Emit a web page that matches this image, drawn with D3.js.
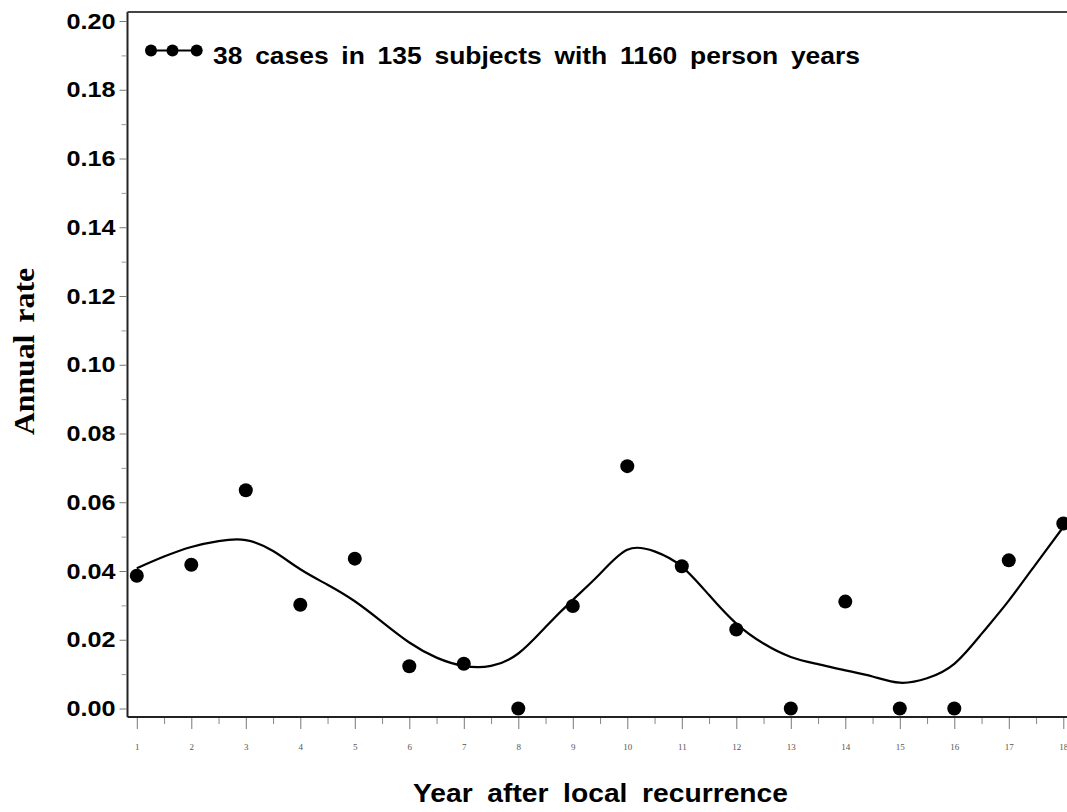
<!DOCTYPE html>
<html>
<head>
<meta charset="utf-8">
<script src="https://cdn.jsdelivr.net/npm/d3@7"></script>
<style>
  html, body { margin: 0; padding: 0; background: #fff; overflow: hidden; }
  svg { display: block; }
</style>
</head>
<body>
<svg id="chart" width="1067" height="812"></svg>
<script>
// Observed annual rates by year after local recurrence
const years = [1, 2, 3, 4, 5, 6, 7, 8, 9, 10, 11, 12, 13, 14, 15, 16, 17, 18];
const rates = [0.0386, 0.0418, 0.0635, 0.0302, 0.0436, 0.0123, 0.0130, 0.0000, 0.0298,
               0.0705, 0.0414, 0.0230, 0.0000, 0.0311, 0.0000, 0.0000, 0.0431, 0.0538];

// Smoothed trend (half-year steps)
const smoothYears = [1, 1.5, 2, 2.5, 3, 3.5, 4, 4.5, 5, 5.5, 6, 6.5, 7, 7.5, 8, 8.5, 9, 9.5,
                     10, 10.5, 11, 11.5, 12, 12.5, 13, 13.5, 14, 14.5, 15, 15.5, 16, 16.5, 17, 17.5, 18];
const smoothRates = [0.0408, 0.0442, 0.0470, 0.0487, 0.0490, 0.0458, 0.0405, 0.0360, 0.0312, 0.0252,
                     0.0192, 0.0148, 0.0124, 0.0124, 0.0160, 0.0237, 0.0316, 0.0392, 0.0462, 0.0457,
                     0.0413, 0.0330, 0.0247, 0.0189, 0.0150, 0.0129, 0.0111, 0.0093, 0.0075, 0.0088,
                     0.0130, 0.0217, 0.0314, 0.0421, 0.0528];

const yTicks = [0, 0.02, 0.04, 0.06, 0.08, 0.10, 0.12, 0.14, 0.16, 0.18, 0.20];
const yMinorTicks = [0.01, 0.03, 0.05, 0.07, 0.09, 0.11, 0.13, 0.15, 0.17, 0.19];
const xTicks = years;
const xMinorTicks = [1.5, 2.5, 3.5, 4.5, 5.5, 6.5, 7.5, 8.5, 9.5, 10.5, 11.5, 12.5, 13.5, 14.5, 15.5, 16.5, 17.5];

const legendLabel = "38 cases in 135 subjects with 1160 person years";
const xTitle = "Year after local recurrence";
const yTitle = "Annual rate";

const svg = d3.select("#chart");

const frame = { left: 127.5, top: 12, bottom: 717, right: 1078 };

const x = d3.scaleLinear().domain([1, 18]).range([136.8, 1063.3]);
const y = d3.scaleLinear().domain([0, 0.20]).range([708.5, 21]);

// Plot frame: left, top and bottom rules
const frameG = svg.append("g").attr("fill", "none").attr("stroke", "#222").attr("stroke-width", 2);
frameG.append("line").attr("x1", frame.left).attr("x2", frame.left).attr("y1", frame.top).attr("y2", frame.bottom);
frameG.append("line").attr("x1", frame.left).attr("x2", frame.right).attr("y1", frame.top).attr("y2", frame.top).attr("stroke", "#444");
frameG.append("line").attr("x1", frame.left).attr("x2", frame.right).attr("y1", frame.bottom).attr("y2", frame.bottom);

// Y axis
const yAxis = d3.axisLeft(y).tickValues(yTicks).tickSize(7).tickPadding(4).tickFormat(d3.format(".2f"));
const yg = svg.append("g").attr("transform", `translate(${frame.left - 1},0)`).call(yAxis);
yg.select(".domain").remove();
yg.selectAll(".tick line").attr("stroke", "#777").attr("stroke-width", 1);
yg.selectAll(".tick text")
  .attr("font-family", "'Liberation Sans', Arial, sans-serif")
  .attr("font-weight", "bold")
  .attr("font-size", 22.5)
  .attr("fill", "#000")
  .attr("textLength", 49)
  .attr("lengthAdjust", "spacingAndGlyphs");
const yMinor = d3.axisLeft(y).tickValues(yMinorTicks).tickSize(5).tickFormat("");
const ygm = svg.append("g").attr("transform", `translate(${frame.left - 1},0)`).call(yMinor);
ygm.select(".domain").remove();
ygm.selectAll(".tick line").attr("stroke", "#999").attr("stroke-width", 1);

// X axis
const xAxis = d3.axisBottom(x).tickValues(xTicks).tickSize(11).tickPadding(15).tickFormat(d3.format("d"));
const xg = svg.append("g").attr("transform", `translate(0,${frame.bottom + 1})`).call(xAxis);
xg.select(".domain").remove();
xg.selectAll(".tick line").attr("stroke", "#777").attr("stroke-width", 1);
xg.selectAll(".tick text")
  .attr("font-family", "'Liberation Serif', 'Times New Roman', serif")
  .attr("font-size", 9)
  .attr("fill", "#555");
const xMinor = d3.axisBottom(x).tickValues(xMinorTicks).tickSize(6).tickFormat("");
const xgm = svg.append("g").attr("transform", `translate(0,${frame.bottom + 1})`).call(xMinor);
xgm.select(".domain").remove();
xgm.selectAll(".tick line").attr("stroke", "#888").attr("stroke-width", 1);

// Smoothed trend line
const line = d3.line()
  .x((d, i) => x(smoothYears[i]))
  .y(d => y(d))
  .curve(d3.curveNatural);
svg.append("path")
  .datum(smoothRates)
  .attr("d", line)
  .attr("fill", "none")
  .attr("stroke", "#000")
  .attr("stroke-width", 2.2);

// Observed points
svg.append("g").selectAll("circle")
  .data(rates)
  .join("circle")
  .attr("cx", (d, i) => x(years[i]))
  .attr("cy", d => y(d))
  .attr("r", 7)
  .attr("fill", "#000");

// Legend
const lg = svg.append("g");
const legendY = 50.5;
const legendDots = [151, 172.5, 196.7];
lg.append("line")
  .attr("x1", legendDots[0]).attr("x2", legendDots[2])
  .attr("y1", legendY).attr("y2", legendY)
  .attr("stroke", "#000").attr("stroke-width", 2.2);
lg.selectAll("circle").data(legendDots).join("circle")
  .attr("cx", d => d).attr("cy", legendY).attr("r", 6).attr("fill", "#000");
lg.append("text")
  .attr("x", 213).attr("y", 64)
  .attr("font-family", "'Liberation Sans', Arial, sans-serif")
  .attr("font-weight", "bold")
  .attr("font-size", 24.5)
  .attr("word-spacing", 5)
  .attr("textLength", 647)
  .attr("lengthAdjust", "spacingAndGlyphs")
  .text(legendLabel);

// Axis titles
svg.append("text")
  .attr("x", 413).attr("y", 802)
  .attr("font-family", "'Liberation Sans', Arial, sans-serif")
  .attr("font-weight", "bold")
  .attr("font-size", 25)
  .attr("word-spacing", 6)
  .attr("textLength", 375)
  .attr("lengthAdjust", "spacingAndGlyphs")
  .text(xTitle);

svg.append("text")
  .attr("transform", "translate(34,435) rotate(-90)")
  .attr("x", 0).attr("y", 0)
  .attr("font-family", "'Liberation Serif', 'Times New Roman', serif")
  .attr("font-weight", "bold")
  .attr("font-size", 29)
  .attr("word-spacing", 4)
  .attr("textLength", 167)
  .attr("lengthAdjust", "spacingAndGlyphs")
  .text(yTitle);
</script>
</body>
</html>
